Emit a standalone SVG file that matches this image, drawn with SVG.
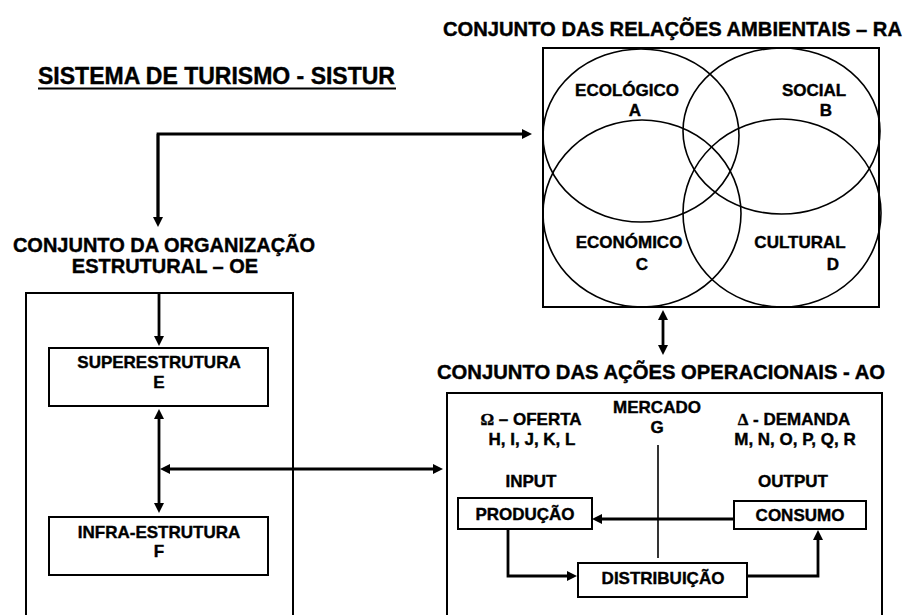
<svg xmlns="http://www.w3.org/2000/svg" width="904" height="615" viewBox="0 0 904 615">
<style>
text{font-family:"Liberation Sans",Arial,sans-serif;font-weight:bold;fill:#000;stroke:#000;stroke-width:0.4}
.t20{font-size:20px}
.t17{font-size:17px;text-anchor:middle}
.box{fill:#fff;stroke:#000;stroke-width:2}
.frame{fill:none;stroke:#000;stroke-width:2}
.ell{fill:none;stroke:#000;stroke-width:1.6}
.arr{fill:none;stroke:#000;stroke-width:2.8}
.sym{font-family:"Liberation Serif","Times New Roman",serif}
</style>
<defs>
<marker id="ah" markerUnits="userSpaceOnUse" markerWidth="11" markerHeight="10" refX="2" refY="5" orient="auto-start-reverse">
<path d="M0,0 L10,5 L0,10 Z" fill="#000"/>
</marker>
</defs>
<rect width="904" height="615" fill="#fff"/>

<g id="title">
<text x="38" y="84" font-size="23" textLength="357" lengthAdjust="spacingAndGlyphs">SISTEMA DE TURISMO - SISTUR</text>
<line x1="38" y1="88.5" x2="396" y2="88.5" stroke="#000" stroke-width="2"/>
</g>

<g id="ra">
<text class="t20" x="443" y="36" textLength="459" lengthAdjust="spacingAndGlyphs">CONJUNTO DAS RELAÇÕES AMBIENTAIS – RA</text>
<rect class="frame" x="543" y="48" width="336" height="259" stroke-width="1.8"/>
<ellipse class="ell" cx="641" cy="135.5" rx="98" ry="86.5"/>
<ellipse class="ell" cx="781.5" cy="131" rx="98.5" ry="83"/>
<ellipse class="ell" cx="642" cy="213.5" rx="99" ry="93.5"/>
<ellipse class="ell" cx="782" cy="213" rx="99" ry="94"/>
<text class="t17" x="627" y="96">ECOLÓGICO</text>
<text class="t17" x="635" y="116">A</text>
<text class="t17" x="814" y="96">SOCIAL</text>
<text class="t17" x="826" y="116">B</text>
<text class="t17" x="629" y="248">ECONÓMICO</text>
<text class="t17" x="642" y="270">C</text>
<text class="t17" x="800" y="248">CULTURAL</text>
<text class="t17" x="833" y="270">D</text>
</g>

<g id="oe">
<text class="t20" x="164" y="252" text-anchor="middle">CONJUNTO DA ORGANIZAÇÃO</text>
<text class="t20" x="165" y="273" text-anchor="middle">ESTRUTURAL – OE</text>
<path class="frame" d="M26,620 V293 H293 V620"/>
</g>

<g id="superestrutura">
<rect class="box" x="49" y="348" width="219" height="58"/>
<text class="t17" x="159" y="368">SUPERESTRUTURA</text>
<text class="t17" x="159" y="388">E</text>
</g>

<g id="infraestrutura">
<rect class="box" x="49" y="517" width="219" height="58"/>
<text class="t17" x="159" y="538">INFRA-ESTRUTURA</text>
<text class="t17" x="159" y="557">F</text>
</g>

<g id="ao">
<text class="t20" x="437" y="379" textLength="448" lengthAdjust="spacingAndGlyphs">CONJUNTO DAS AÇÕES OPERACIONAIS - AO</text>
<path class="frame" d="M447,620 V393 H882 V620"/>
<text class="t17" x="531" y="425"><tspan class="sym">Ω</tspan> – OFERTA</text>
<text class="t17" x="532" y="445">H, I, J, K, L</text>
<text class="t17" x="657" y="413">MERCADO</text>
<text class="t17" x="657" y="433">G</text>
<text class="t17" x="794" y="425"><tspan class="sym">Δ</tspan> - DEMANDA</text>
<text class="t17" x="795" y="445">M, N, O, P, Q, R</text>
<text class="t17" x="531" y="487">INPUT</text>
<text class="t17" x="793" y="487">OUTPUT</text>
<line x1="658" y1="445" x2="658" y2="558" stroke="#000" stroke-width="1.6"/>
</g>

<g id="producao">
<rect class="box" x="458" y="498" width="134" height="31"/>
<text class="t17" x="525" y="520">PRODUÇÃO</text>
</g>

<g id="consumo">
<rect class="box" x="734" y="501" width="132" height="28"/>
<text class="t17" x="800" y="521">CONSUMO</text>
</g>

<g id="distribuicao">
<rect class="box" x="578" y="563" width="169" height="34"/>
<text class="t17" x="663" y="584">DISTRIBUIÇÃO</text>
</g>

<g id="connectors">
<path class="arr" d="M158,219 V134 H524" marker-end="url(#ah)"/>
<path class="arr" d="M158,134 V219" marker-end="url(#ah)"/>
<path class="arr" d="M159,293 V338" marker-end="url(#ah)"/>
<path class="arr" d="M159,417 V505" marker-start="url(#ah)" marker-end="url(#ah)"/>
<path class="arr" d="M168,469 H435" marker-start="url(#ah)" marker-end="url(#ah)"/>
<path class="arr" d="M663,318 V347" marker-start="url(#ah)" marker-end="url(#ah)"/>
<path class="arr" d="M734,519 H600" marker-end="url(#ah)"/>
<path class="arr" d="M508,529 V576 H569" marker-end="url(#ah)"/>
<path class="arr" d="M747,576 H818 V538" marker-end="url(#ah)"/>
</g>
</svg>
